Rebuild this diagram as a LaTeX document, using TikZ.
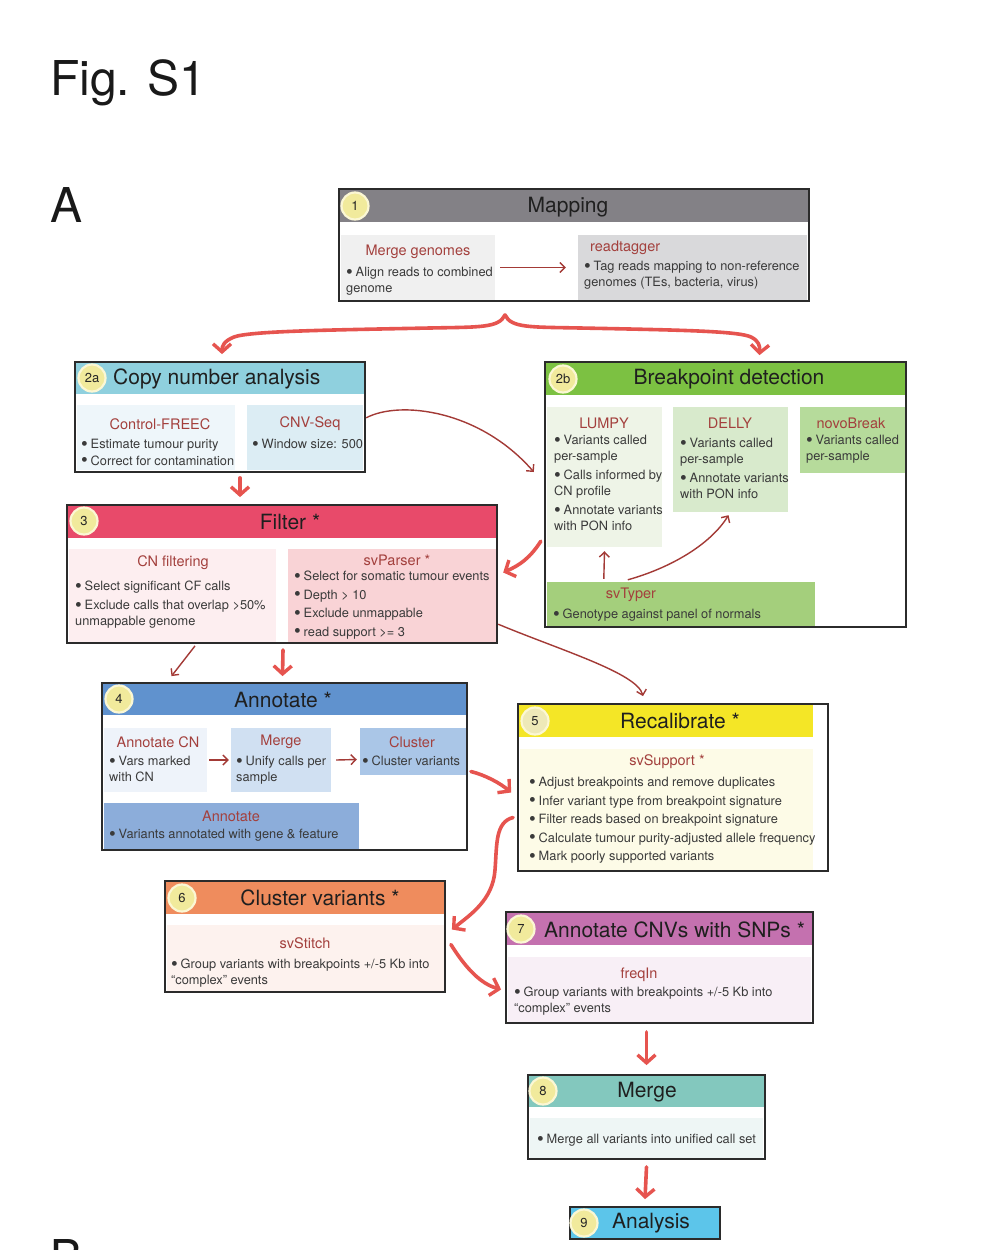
\documentclass[tikz,border=0pt]{standalone}
\usepackage{fontspec}
\usepackage{graphicx}
\setmainfont{TeX Gyre Heros}
\usetikzlibrary{fit,calc,arrows.meta}
\pgfdeclarelayer{bg}
\pgfsetlayers{bg,main}
\definecolor{frm}{HTML}{2B2B2B}
\definecolor{tool}{HTML}{A3403D}
\definecolor{txt}{HTML}{3A3A3A}
\definecolor{thinar}{HTML}{A33A36}
\definecolor{thickar}{HTML}{E6544F}
\definecolor{numfill}{HTML}{F1EA9C}
\definecolor{numring}{HTML}{FBF7D4}
\definecolor{hMap}{HTML}{838186}
\definecolor{hCN}{HTML}{8FD0DE}
\definecolor{hBP}{HTML}{7CC142}
\definecolor{hFil}{HTML}{E84A6A}
\definecolor{hAnn}{HTML}{6092CE}
\definecolor{hRec}{HTML}{F4E626}
\definecolor{hClu}{HTML}{EF8C5D}
\definecolor{hSNP}{HTML}{C471AF}
\definecolor{hMrg}{HTML}{83C8BE}
\definecolor{hAna}{HTML}{5CC5EA}
\definecolor{sMapA}{HTML}{F0F0F0}
\definecolor{sMapB}{HTML}{D9D9DB}
\definecolor{sCNA}{HTML}{EEF6FA}
\definecolor{sCNB}{HTML}{DCEDF4}
\definecolor{sLum}{HTML}{EEF4E7}
\definecolor{sDel}{HTML}{D8EACC}
\definecolor{sNov}{HTML}{B6DB9B}
\definecolor{sTyp}{HTML}{A4CF7C}
\definecolor{sCnf}{HTML}{FDEEF0}
\definecolor{sPar}{HTML}{F9D3D6}
\definecolor{sAcn}{HTML}{EEF3FA}
\definecolor{sAmg}{HTML}{D0E0F2}
\definecolor{sAcl}{HTML}{AAC6E7}
\definecolor{sAan}{HTML}{8CADDA}
\definecolor{sRec}{HTML}{FDFBE7}
\definecolor{sClu}{HTML}{FDF2EE}
\definecolor{sSNP}{HTML}{F8EFF6}
\definecolor{sMrg}{HTML}{EEF6F5}
\definecolor{numpale}{HTML}{EEE9B8}
\newcommand\myb{\smash{\raisebox{-0.12em}{\scalebox{1.5}{\textbullet}}}\hspace{0.22em}}
\tikzset{
  frame/.style={draw=frm, line width=1.8pt, fill=white, inner sep=0pt},
  fillbox/.style={inner sep=0pt, draw=none},
  htitle/.style={font=\fontsize{21}{24}\selectfont, text=black!88, inner sep=0pt},
  bigtitle/.style={font=\fontsize{48}{50}\selectfont, text=black!90, inner sep=0pt, anchor=base west},
  tname/.style={font=\fontsize{14.5}{16}\selectfont, text=tool, inner sep=0pt},
  bul/.style={font=\fontsize{12.8}{15.5}\selectfont, text=txt, align=left, inner sep=0pt, anchor=north west},
  num/.style={circle, fill=numfill, draw=numring, line width=2.2pt, minimum size=27pt, inner sep=0pt, font=\fontsize{13}{13}\selectfont, text=black!85},
  thinarrow/.style={draw=thinar, line width=1.4pt, -{Straight Barb[length=5pt,width=10pt,line width=1.4pt]}},
  thickarrow/.style={draw=thickar, line width=3.6pt, line cap=round, -{Straight Barb[length=8pt,width=18pt,line width=3.4pt]}},
  behind/.style={draw=thinar, line width=1.4pt},
}
\begin{document}
\begin{tikzpicture}[x=1pt,y=-1pt]
\useasboundingbox[fill=white] (0,0) rectangle (1000,1250);

% titles
\node[bigtitle] (fig) at (50,95) {Fig. S1};
\node[bigtitle] (lblA) at (50,222) {A};
\node[bigtitle] (lblB) at (50,1274) {B};

% ---------- 1 Mapping
\node[frame, fit={(339,189) (809,301)}] (m1) {};
\node[fillbox, fill=hMap, fit={(340,190) (808,222)}] (m1h) {};
\node[htitle] (m1t) at (568,207) {Mapping};
\node[num] (n1) at (355,206) {1};
\node[fillbox, fill=sMapA, fit={(341,235) (495,300)}] (mg) {};
\node[tname] (mgt) at (418,252) {Merge genomes};
\node[bul] (mgb) at (346,267) {\myb Align reads to combined\\genome};
\node[fillbox, fill=sMapB, fit={(578,235) (807,300)}] (rt) {};
\node[tname, anchor=west] (rtt) at (590,248) {readtagger};
\node[bul] (rtb) at (584,261) {\myb Tag reads mapping to non-reference\\genomes (TEs, bacteria, virus)};

% ---------- 2a Copy number
\node[frame, fit={(75,362) (365,472)}] (cn) {};
\node[fillbox, fill=hCN, fit={(76,363) (364,394)}] (cnh) {};
\node[htitle, anchor=west] (cnt) at (113,379) {Copy number analysis};
\node[num] (n2a) at (92,378) {2a};
\node[fillbox, fill=sCNA, fit={(77,405) (235,470)}] (cfr) {};
\node[tname] (cfrt) at (160,424) {Control-FREEC};
\node[bul] (cfrb) at (81,439) {\myb Estimate tumour purity\\[1pt]\myb Correct for contamination};
\node[fillbox, fill=sCNB, fit={(247,405) (363,470)}] (cnv) {};
\node[tname] (cnvt) at (310,424) {CNV-Seq};
\node[bul] (cnvb) at (252,439) {\myb Window size: 500};

% ---------- 2b Breakpoint detection
\node[frame, fit={(545,362) (906,627)}] (bp) {};
\node[fillbox, fill=hBP, fit={(546,363) (905,395)}] (bph) {};
\node[htitle] (bpt) at (729,379) {Breakpoint detection};
\node[num] (n2b) at (563,379) {2b};
\node[fillbox, fill=sLum, fit={(547,407) (662,547)}] (lum) {};
\node[tname] (lumt) at (604,423) {LUMPY};
\node[bul] (lumb) at (554,435) {\myb Variants called\\per-sample\\[4pt]\myb Calls informed by\\CN profile\\[4pt]\myb Annotate variants\\with PON info};
\node[fillbox, fill=sDel, fit={(673,407) (788,512)}] (del) {};
\node[tname] (delt) at (730,423) {DELLY};
\node[bul] (delb) at (680,438) {\myb Variants called\\per-sample\\[4pt]\myb Annotate variants\\with PON info};
\node[fillbox, fill=sNov, fit={(800,407) (905,473)}] (nov) {};
\node[tname] (novt) at (851,423) {novoBreak};
\node[bul] (novb) at (806,435) {\myb Variants called\\per-sample};
\node[fillbox, fill=sTyp, fit={(547,582) (815,626)}] (typ) {};
\node[tname] (typt) at (631,595) {svTyper};
\node[bul] (typb) at (553,609) {\myb Genotype against panel of normals};

% ---------- 3 Filter
\node[frame, fit={(67,505) (497,643)}] (flt) {};
\node[fillbox, fill=hFil, fit={(68,506) (496,538)}] (flth) {};
\node[htitle] (fltt) at (290,522) {Filter *};
\node[num] (n3) at (84,521) {3};
\node[fillbox, fill=sCnf, fit={(69,549) (276,642)}] (cnf) {};
\node[tname] (cnft) at (173,563) {CN filtering};
\node[bul] (cnfb) at (75,581) {\myb Select significant CF calls\\[3.5pt]\myb Exclude calls that overlap >50\%\\unmappable genome};
\node[fillbox, fill=sPar, fit={(288,549) (496,642)}] (par) {};
\node[tname] (part) at (397,560) {svParser *};
\node[bul] (parb) at (294,571) {\myb Select for somatic tumour events\\[3pt]\myb Depth > 10\\[3pt]\myb Exclude unmappable\\[3pt]\myb read support >= 3};

% ---------- 4 Annotate
\node[frame, fit={(102,683) (467,850)}] (ann) {};
\node[fillbox, fill=hAnn, fit={(103,684) (466,715)}] (annh) {};
\node[htitle] (annt) at (283,700) {Annotate *};
\node[num] (n4) at (119,699) {4};
\node[fillbox, fill=sAcn, fit={(104,728) (207,792)}] (acn) {};
\node[tname] (acnt) at (158,742) {Annotate CN};
\node[bul] (acnb) at (109,756) {\myb Vars marked\\with CN};
\node[fillbox, fill=sAmg, fit={(231,728) (331,792)}] (amg) {};
\node[tname] (amgt) at (281,742) {Merge};
\node[bul] (amgb) at (236,756) {\myb Unify calls per\\sample};
\node[fillbox, fill=sAcl, fit={(360,728) (466,775)}] (acl) {};
\node[tname] (aclt) at (412,742) {Cluster};
\node[bul] (aclb) at (362,756) {\myb Cluster variants};
\node[fillbox, fill=sAan, fit={(104,803) (359,849)}] (aan) {};
\node[tname] (aant) at (231,816) {Annotate};
\node[bul] (aanb) at (109,829) {\myb Variants annotated with gene \& feature};

% ---------- 5 Recalibrate
\node[frame, fit={(518,704) (828,871)}] (rec) {};
\node[fillbox, fill=hRec, fit={(519,705) (813,737)}] (rech) {};
\node[htitle] (rect) at (680,721) {Recalibrate *};
\node[num, fill=numpale] (n5) at (535,721) {5};
\node[fillbox, fill=sRec, fit={(520,749) (813,870)}] (sup) {};
\node[tname] (supt) at (667,762) {svSupport *};
\node[bul] (supb) at (529,777) {\myb Adjust breakpoints and remove duplicates\\[3pt]\myb Infer variant type from breakpoint signature\\[3pt]\myb Filter reads based on breakpoint signature\\[3pt]\myb Calculate tumour purity-adjusted allele frequency\\[3pt]\myb Mark poorly supported variants};

% ---------- 6 Cluster variants
\node[frame, fit={(165,881) (445,992)}] (clu) {};
\node[fillbox, fill=hClu, fit={(166,882) (444,914)}] (cluh) {};
\node[htitle] (clut) at (320,898) {Cluster variants *};
\node[num] (n6) at (182,898) {6};
\node[fillbox, fill=sClu, fit={(167,925) (444,991)}] (sti) {};
\node[tname] (stit) at (305,943) {svStitch};
\node[bul] (stib) at (171,959) {\myb Group variants with breakpoints +/-5 Kb into\\“complex” events};

% ---------- 7 Annotate CNVs with SNPs
\node[frame, fit={(506,912) (813,1023)}] (snp) {};
\node[fillbox, fill=hSNP, fit={(507,913) (812,945)}] (snph) {};
\node[htitle, anchor=west] (snpt) at (544,930) {Annotate CNVs with SNPs *};
\node[num] (n7) at (521,929) {7};
\node[fillbox, fill=sSNP, fit={(508,957) (811,1022)}] (frq) {};
\node[tname] (frqt) at (639,975) {freqIn};
\node[bul] (frqb) at (514,987) {\myb Group variants with breakpoints +/-5 Kb into\\“complex” events};

% ---------- 8 Merge
\node[frame, fit={(528,1075) (765,1159)}] (mrg) {};
\node[fillbox, fill=hMrg, fit={(529,1076) (764,1107)}] (mrgh) {};
\node[htitle] (mrgt) at (647,1092) {Merge};
\node[num] (n8) at (543,1091) {8};
\node[fillbox, fill=sMrg, fit={(530,1118) (763,1158)}] (mrs) {};
\node[bul] (mrsb) at (537,1134) {\myb Merge all variants into unified call set};

% ---------- 9 Analysis
\node[frame, fill=hAna, fit={(570,1207) (720,1239)}] (ana) {};
\node[htitle] (anat) at (651,1223) {Analysis};
\node[num] (n9) at (584,1223) {9};

% ---------- arcs passing behind boxes
\begin{pgfonlayer}{bg}
\draw[behind] (365,425) .. controls (395,440) and (405,475) .. (398,512);
\draw[behind] (155,466) .. controls (158,487) and (165,496) .. (182,512);
\end{pgfonlayer}

% ---------- connectors
\coordinate (br) at ($(m1.south)+(-69,13)$);
\draw[thickarrow] (br) .. controls (499,328) and (480,327) .. (430,328)
   .. controls (330,330) and (250,331) .. (234,337)
   .. controls (224,341) and (222,346) .. ($(cn.north)+(2,-7)$);
\draw[thickarrow] (br) .. controls (511,328) and (530,327) .. (580,328)
   .. controls (680,330) and (738,331) .. (751,337)
   .. controls (759,341) and (760,346) .. ($(bp.north)+(34,-6)$);
\draw[thinarrow] ($(mg.east)+(5,0)$) -- ($(rt.west)+(-12,0)$);
\draw[thinarrow] ($(cnv.north east)+(3,13)$) .. controls (400,400) and (480,410) .. ($(lum.west)+(-13,-5)$);
\draw[thickarrow] ($(cn.south)+(20,5)$) -- ($(flt.north)+(-42,-7)$);
\draw[thickarrow] ($(lum.south west)+(-6,-6)$) .. controls (530,558) and (520,565) .. ($(par.east)+(7,-23)$);
\draw[thinarrow] ($(typ.north west)+(57,-3)$) -- ($(lum.south)+(0,4)$);
\draw[thinarrow] ($(typ.north west)+(81,-2)$) .. controls (670,568) and (710,545) .. ($(del.south)+(-2,3)$);
\draw[thinarrow] ($(flt.south)+(-87,2)$) -- ($(ann.north)+(-113,-6)$);
\draw[thickarrow] ($(flt.south)+(1,6)$) -- ($(ann.north)+(-2,-6)$);
\draw[thinarrow] ($(par.south east)+(2,-18)$) .. controls (560,650) and (637,673) .. ($(rec.north)+(-30,-7)$);
\draw[thinarrow] ($(acn.east)+(2,0)$) -- ($(amg.west)+(-2,0)$);
\draw[thinarrow] ($(amg.east)+(5,0)$) -- ($(acl.west)+(-3,8)$);
\draw[thickarrow] ($(ann.east)+(3,5)$) .. controls (485,775) and (500,783) .. ($(rec.west)+(-6,5)$);
\draw[thickarrow] ($(rec.west)+(-4,30)$) .. controls (495,822) and (497,845) .. (495,870)
   .. controls (493,900) and (470,915) .. ($(clu.east)+(6,-7)$);
\draw[thickarrow] ($(clu.east)+(5,8)$) .. controls (470,975) and (485,985) .. ($(snp.west)+(-4,22)$);
\draw[thickarrow] ($(snp.south)+(-13,8)$) -- ($(mrg.north)+(0,-9)$);
\draw[thickarrow] ($(mrg.south)+(0,7)$) -- ($(ana.north)+(0,-7)$);
\end{tikzpicture}
\end{document}
